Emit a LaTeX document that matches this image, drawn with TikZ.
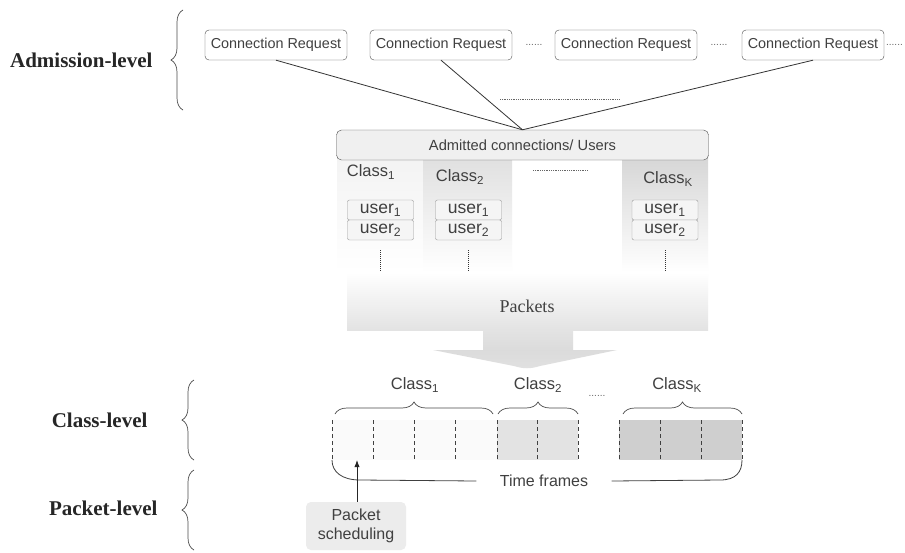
\documentclass[tikz,border=0pt]{standalone}
\usepackage{fontspec}
\setmainfont{Liberation Sans}
\newfontfamily\serifface{Liberation Serif}
\usepackage{xcolor}
\usetikzlibrary{arrows.meta,positioning,calc,decorations.pathreplacing}

\begin{document}
\begin{tikzpicture}[x=1pt,y=-1pt,>=Latex,
  every node/.style={text=black!75},
  lvl/.style={font=\serifface\bfseries\fontsize{21}{23}\selectfont,text=black!85,anchor=east},
  bracefig/.style={decorate,decoration={brace,amplitude=12pt},draw=black!70,line width=0.7pt},
  reqbox/.style={draw=black!70,rounded corners=4pt,fill=white,font=\fontsize{14.4}{16}\selectfont,minimum width=142pt,minimum height=30pt,inner sep=1pt},
  userbox/.style={draw=black!40,rounded corners=2pt,fill=gray!8,font=\fontsize{17.5}{19}\selectfont,minimum width=66pt,minimum height=20pt,inner sep=0pt},
  clslbl/.style={font=\fontsize{16.5}{18}\selectfont},
  dotsep/.style={font=\fontsize{10}{12}\selectfont,text=black!60},
  slotline/.style={draw=black!75,dash pattern=on 4pt off 3pt,line width=0.9pt}]
  \fill[white] (0,0) rectangle (905,552);
  \useasboundingbox (0,0) rectangle (905,552);

  \node[lvl] (admlvl) at (156,60) {Admission-level};
  \node[lvl] (clslvl) at (151,420) {Class-level};
  \node[lvl] (pktlvl) at (161,508) {Packet-level};
  \draw[bracefig] (183,110) -- (183,10);
  \draw[bracefig] (194,460) -- (194,380);
  \draw[bracefig] (194,550) -- (194,470);

  \node[reqbox] (req1) at (276,45) {Connection Request};
  \node[reqbox] (req2) at (441,45) {Connection Request};
  \node[reqbox] (req3) at (626,45) {Connection Request};
  \node[reqbox] (req4) at (813,45) {Connection Request};
  \node[dotsep] at (534,45) {......};
  \node[dotsep] at (719,45) {......};
  \node[dotsep,anchor=east,inner sep=1pt] at (904,45) {......};

  \shade[top color=gray!10,bottom color=white] (337,150) rectangle (423,272);
  \shade[top color=gray!26,bottom color=white] (423,150) rectangle (512,272);
  \shade[top color=gray!34,bottom color=white] (622,150) rectangle (708,272);

  \node[draw=black!70,rounded corners=5pt,fill=gray!12,minimum width=372pt,minimum height=30pt,font=\fontsize{14.7}{16}\selectfont] (adm) at (522.5,145) {Admitted connections/ Users};
  \draw[black!80,line width=0.8pt] (req1.south) -- (adm.north);
  \draw[black!80,line width=0.8pt] (req2.south) -- (adm.north);
  \draw[black!80,line width=0.8pt] (req4.south) -- (adm.north);
  \draw[black!60,densely dotted,line width=0.8pt] (500,99) -- (620,99);

  \node[clslbl] (cls1) at (371,172) {Class\textsubscript{1}};
  \node[clslbl] (cls2) at (460,177) {Class\textsubscript{2}};
  \node[clslbl] (clsK) at (668,179) {Class\textsubscript{K}};
  \draw[black!60,densely dotted,line width=0.8pt] (533,170) -- (588,170);

  \node[userbox] (u11) at (380.5,210) {user\textsubscript{1}};
  \node[userbox] (u12) at (380.5,230) {user\textsubscript{2}};
  \node[userbox] (u21) at (468.5,210) {user\textsubscript{1}};
  \node[userbox] (u22) at (468.5,230) {user\textsubscript{2}};
  \node[userbox] (uK1) at (665,210) {user\textsubscript{1}};
  \node[userbox] (uK2) at (665,230) {user\textsubscript{2}};
  \foreach \u in {u12,u22,uK2}
    \draw[black!80,densely dotted,line width=1pt] ($(\u.south)+(0,10)$) -- ++(0,22);

  \shade[top color=white,bottom color=gray!22] (347,272) rectangle (708,330);
  \shade[top color=gray!22,bottom color=gray!28] (483,330) rectangle (573,350);
  \shade[top color=gray!28,bottom color=gray!24] (433,350) -- (617,350) -- (540,366) .. controls (530,369) and (524,369) .. (514,366) -- cycle;
  \node[font=\serifface\fontsize{18}{20}\selectfont] (pkts) at (527,306) {Packets};

  \node[clslbl] (fcls1) at (415,385) {Class\textsubscript{1}};
  \node[clslbl] (fcls2) at (538,385) {Class\textsubscript{2}};
  \node[clslbl] (fclsK) at (677,385) {Class\textsubscript{K}};
  \node[dotsep] at (597,396) {......};
  \draw[bracefig] (335,414) -- (493,414);
  \draw[bracefig] (498,414) -- (578,414);
  \draw[bracefig] (623,414) -- (742,414);

  \fill[gray!4] (332,420) rectangle (497,460);
  \fill[gray!22] (497,420) rectangle (578,460);
  \fill[gray!38] (619,420) rectangle (742,460);
  \foreach \x in {332,373,414,455,497,537,578,619,660,701,742}
    \draw[slotline] (\x,420) -- (\x,460);

  \node[font=\fontsize{16}{18}\selectfont] (tf) at (544,481) {Time frames};
  \draw[black!75,line width=0.8pt] (tf.west) ++(-20,0) -- (360,480) .. controls (342,480) and (332,472) .. (332,460);
  \draw[black!75,line width=0.8pt] (tf.east) ++(20,0) -- (720,480) .. controls (736,480) and (742,472) .. (742,460);

  \node[fill=gray!15,rounded corners=5pt,align=center,minimum width=100pt,minimum height=48pt,font=\fontsize{16}{19}\selectfont] (sched) at (356,526) {Packet\\scheduling};
  \coordinate (slotpt) at (357,460);
  \draw[->,black!85,line width=0.9pt] (sched.north -| slotpt) -- (slotpt);
\end{tikzpicture}
\end{document}
